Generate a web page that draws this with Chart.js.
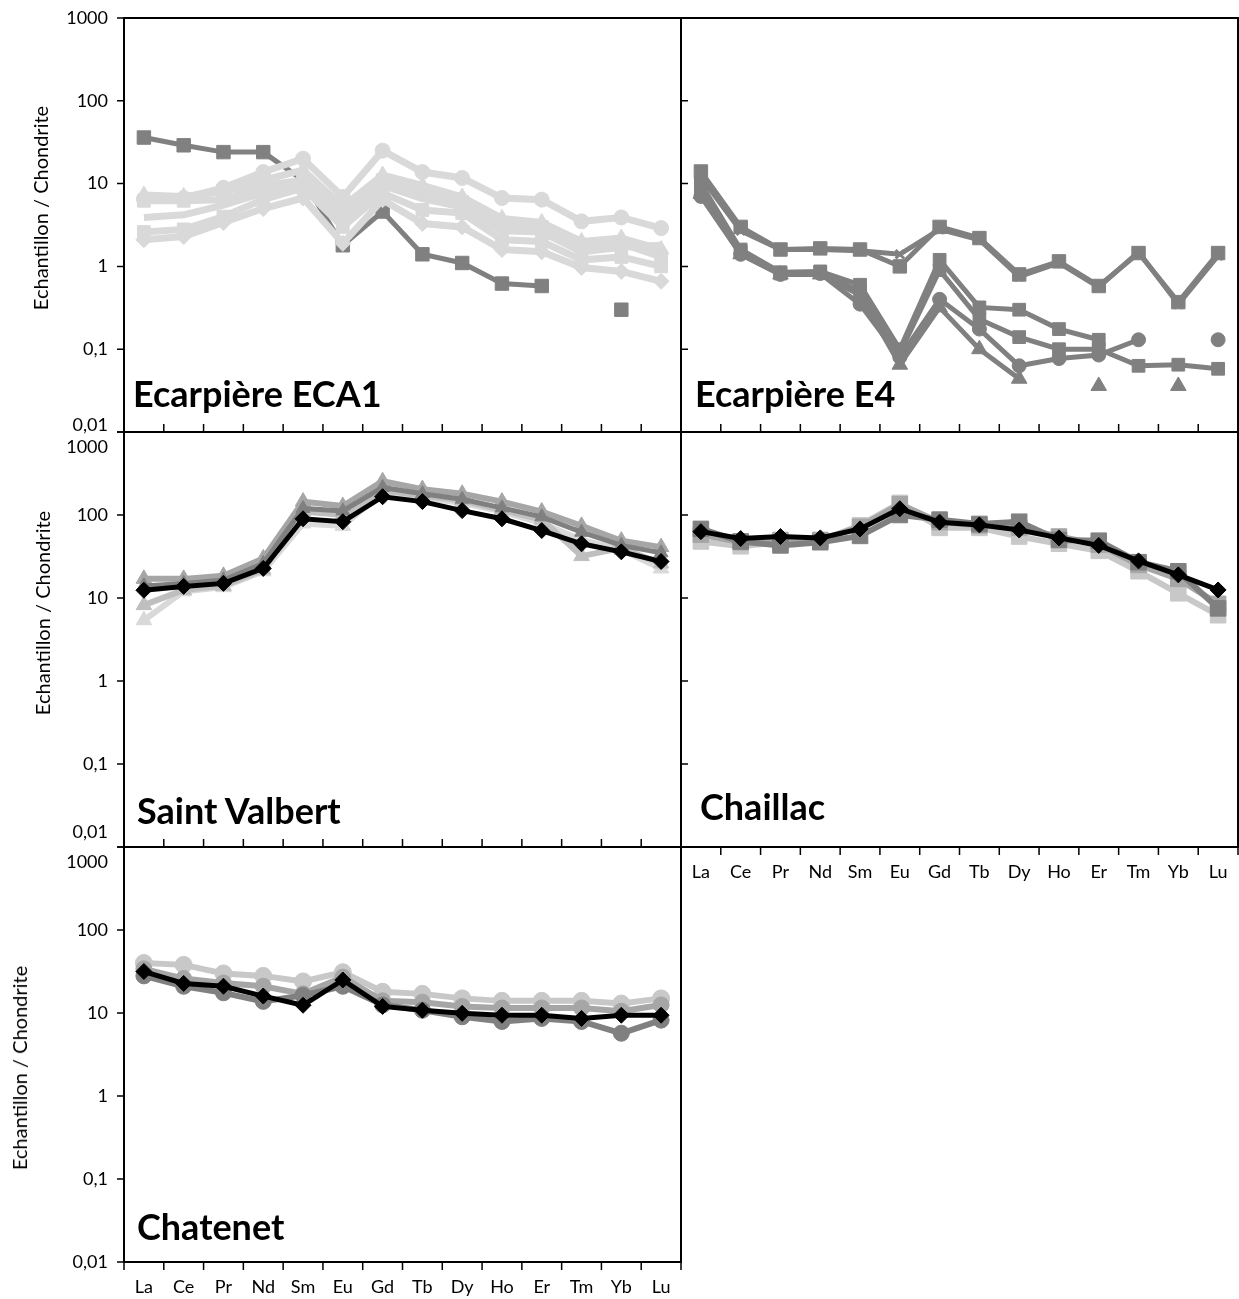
<!DOCTYPE html>
<html lang="fr">
<head>
<meta charset="UTF-8">
<title>Spectres de terres rares normalisés aux chondrites</title>
<script src="https://cdn.jsdelivr.net/npm/chart.js"></script>
<style>
  body { margin: 0; background: #fff; }
  #page { position: relative; width: 1239px; height: 1299px; overflow: hidden; }
  #page canvas { position: absolute; left: -40px; top: -40px; }
  .titre { position: absolute; font: bold 36px Lato, sans-serif; color: #000; line-height: 1; white-space: nowrap; }
  .axe { position: absolute; font: 20px Lato, sans-serif; color: #000; white-space: nowrap;
         transform: translate(-50%, -50%) rotate(-90deg); }
</style>
</head>
<body>
<div id="page">
  <canvas id="eca1" width="1319" height="1379"></canvas>
  <canvas id="e4" width="1319" height="1379"></canvas>
  <canvas id="valbert" width="1319" height="1379"></canvas>
  <canvas id="chaillac" width="1319" height="1379"></canvas>
  <canvas id="chatenet" width="1319" height="1379"></canvas>

  <div class="titre" style="left:133px; top:375px">Ecarpière ECA1</div>
  <div class="titre" style="left:695px; top:375px">Ecarpière E4</div>
  <div class="titre" style="left:137px; top:792px">Saint Valbert</div>
  <div class="titre" style="left:700px; top:788px">Chaillac</div>
  <div class="titre" style="left:137px; top:1208px">Chatenet</div>

  <div class="axe" style="left:40px; top:208px">Echantillon / Chondrite</div>
  <div class="axe" style="left:42px; top:613px">Echantillon / Chondrite</div>
  <div class="axe" style="left:19px; top:1068px">Echantillon / Chondrite</div>
</div>

<script>
    const elements = ['La', 'Ce', 'Pr', 'Nd', 'Sm', 'Eu', 'Gd', 'Tb', 'Dy', 'Ho', 'Er', 'Tm', 'Yb', 'Lu'];
    const yTicks = [1000, 100, 10, 1, 0.1, 0.01];
    const yTickLabels = ['1000', '100', '10', '1', '0,1', '0,01'];

    // Ecarpière ECA1
    const eca1Ronds     = [6.5, 6.7, 8.9, 13.8, 20, 6.9, 25, 13.8, 11.7, 6.7, 6.4, 3.5, 3.9, 2.9];
    const eca1Triangles = [7.3, 7.0, 8.0, 11, 14.6, 5.3, 12.7, 9.5, 6.9, 3.8, 3.4, 2.0, 2.2, 1.6];
    const eca1Carres    = [6.2, 6.2, 6.4, 9.5, 11, 4.5, 11, 8.0, 6.0, 3.2, 3.0, 1.7, 1.9, 1.3];
    const eca1Trait     = [3.9, 4.2, 5.5, 7.7, 10, 3.8, 9.5, 6.6, 5.2, 2.7, 2.6, 1.5, 1.7, 1.8];
    const eca1CarresBas = [2.6, 2.8, 4.0, 6.4, 8.9, 3.0, 7.7, 4.8, 4.4, 2.1, 2.0, 1.2, 1.3, 1.0];
    const eca1Losanges  = [2.1, 2.3, 3.4, 5.0, 6.7, 1.9, 6.4, 3.3, 3.0, 1.6, 1.5, 0.97, 0.87, 0.66];
    const eca1Fonce     = [36, 29, 24, 24, 11, 1.8, 4.6, 1.4, 1.1, 0.62, 0.58, null, 0.3, null];

    // Ecarpière E4
    const e4A = [14, 3.0, 1.6, 1.65, 1.6, 1.0, 3.0, 2.2, 0.8, 1.15, 0.58, 1.45, 0.37, 1.45];
    const e4B = [12, 2.7, 1.6, 1.6, 1.55, 1.4, 2.8, 2.1, 0.75, 1.1, 0.56, 1.5, 0.35, 1.35];
    const e4C = [10, 1.6, 0.85, 0.87, 0.6, 0.1, 1.2, 0.32, 0.30, 0.175, 0.13, null, null, null];
    const e4D = [8.5, 1.5, 0.82, 0.85, 0.5, 0.09, 0.9, 0.23, 0.14, 0.1, 0.1, 0.063, 0.065, 0.058];
    const e4E = [7, 1.4, 0.8, 0.82, 0.35, 0.08, 0.4, 0.175, 0.063, 0.077, 0.085, 0.13, null, 0.13];
    const e4F = [7.5, 1.4, 0.8, 0.8, 0.45, 0.065, 0.32, 0.1, 0.044, null, 0.036, null, 0.036, null];

    // Saint Valbert
    const svNoir   = [12.4, 13.8, 15, 22.7, 90, 83, 166, 145, 113, 90, 65, 45, 36, 27.5];
    const svFonce  = [14, 15, 16.5, 26, 120, 112, 215, 180, 155, 122, 95, 62, 43, 35];
    const svMoyen  = [17, 17, 18.5, 30, 145, 128, 255, 205, 180, 145, 110, 74, 49, 41];
    const svClair  = [8.2, 12.5, 14, 22, 110, 100, 200, 170, 150, 115, 88, 32, 40, 26];
    const svPale   = [5.4, 12, 13.5, 21, 79, 74, 190, 160, 140, 110, 80, 50, 38, 22.7];

    // Chaillac
    const chNoir   = [63, 52, 55, 53, 68, 119, 82, 76, 66, 53, 43, 28, 19, 12.5];
    const chFonce  = [68, 48, 43, 47, 56, 100, 88, 78, 83, 50, 49, 27, 21, 7.5];
    const chMoyen  = [58, 47, 50, 50, 72, 135, 82, 75, 70, 55, 44, 25, 17, 8.5];
    const chClair  = [48, 42, 47, 49, 75, 140, 70, 70, 55, 45, 37, 21, 11.4, 6.2];

    // Chatenet
    const ctNoir   = [31.6, 22.7, 21, 16, 12.4, 25, 12, 10.8, 9.9, 9.4, 9.4, 8.6, 9.4, 9.4];
    const ctFonce  = [28, 21, 17.5, 13.8, 16.3, 21, 12.5, 10.8, 9, 7.9, 8.6, 7.9, 5.7, 8.2];
    const ctMoyen  = [34, 26, 23, 21, 17, 27, 14, 13.5, 12, 11.5, 11.5, 11.5, 10.5, 12.5];
    const ctClair  = [40, 38, 30, 28, 24, 31, 18, 17, 15, 14, 14, 14, 13, 15];

    Chart.defaults.font.family = 'Lato, sans-serif';
    Chart.defaults.color = '#000';

    const MARGE = 40;   // marge du canvas autour de la page (evite le padding automatique)
    const TAILLE = 18;  // police des graduations

    function serie(valeurs, couleur, forme, largeur = 5, rayon = 6) {
        return {
            data: valeurs,
            borderColor: couleur,
            backgroundColor: couleur,
            borderWidth: largeur,
            pointStyle: forme || false,
            pointRadius: forme ? rayon : 0,
            pointBackgroundColor: couleur,
            pointBorderColor: couleur,
            pointBorderWidth: forme === 'crossRot' ? 3 : 1,
            tension: 0
        };
    }

    // cadre noir + petites graduations, placees avec les echelles du graphique
    const cadre = {
        id: 'cadre',
        afterDatasetsDraw(chart, args, opts) {
            const { ctx, chartArea: a, scales } = chart;
            ctx.save();
            ctx.strokeStyle = '#000';
            ctx.lineWidth = 2;
            ctx.strokeRect(a.left, a.top, a.right - a.left, a.bottom - a.top);
            ctx.lineWidth = 1.5;
            ctx.beginPath();
            const dy = opts.yInside ? 7 : -7;
            yTicks.forEach(v => {
                const y = scales.y.getPixelForValue(v);
                ctx.moveTo(a.left, y);
                ctx.lineTo(a.left + dy, y);
            });
            const pas = scales.x.getPixelForValue(1) - scales.x.getPixelForValue(0);
            const dx = opts.xInside ? -8 : 8;
            for (let i = 0; i <= elements.length; i++) {
                const x = scales.x.getPixelForValue(0) + (i - 0.5) * pas;
                ctx.moveTo(x, a.bottom);
                ctx.lineTo(x, a.bottom + dx);
            }
            ctx.stroke();
            ctx.restore();
        }
    };

    function panneau(id, zone, gauche, etiquettesX, decal, datasets) {
        const [x0, y0, x1, y1] = zone;
        const hautX = etiquettesX ? 37 : 0;
        const largY = gauche ? 124 : 0;
        // decalage vertical des etiquettes extremes (1000 et 0,01), comme sur l'original
        const decalage = v => v === yTicks[0] ? decal[0] : v === yTicks[5] ? decal[1] : 0;
        new Chart(document.getElementById(id), {
            type: 'line',
            data: { labels: elements, datasets: datasets },
            options: {
                responsive: false,
                animation: false,
                events: [],
                layout: {
                    autoPadding: false,
                    padding: {
                        left: MARGE + x0 - largY,
                        top: MARGE + y0,
                        right: MARGE + 1239 - x1,
                        bottom: MARGE + 1299 - y1 - hautX
                    }
                },
                scales: {
                    x: {
                        type: 'category', labels: elements, offset: true, display: etiquettesX,
                        grid: { display: false, drawTicks: false }, border: { display: false },
                        ticks: { autoSkip: false, maxRotation: 0, padding: 14, font: { size: TAILLE } },
                        afterFit: s => { s.height = hautX; }
                    },
                    y: {
                        type: 'logarithmic', position: 'left', min: 0.01, max: 1000, display: gauche,
                        grid: { display: false, drawTicks: false }, border: { display: false },
                        afterBuildTicks: s => { s.ticks = yTicks.map(v => ({ value: v })); },
                        afterFit: s => { s.width = largY; },
                        ticks: {
                            autoSkip: false, padding: 16,
                            font: c => {
                                const d = decalage(c.tick ? c.tick.value : 1);
                                return { size: TAILLE, lineHeight: d ? (2 * Math.abs(d)) + 'px' : 1.2 };
                            },
                            callback: v => {
                                const t = yTickLabels[yTicks.indexOf(v)];
                                const d = decalage(v);
                                if (!d) return t;
                                return d > 0 ? ['', t] : [t, ''];
                            }
                        }
                    }
                },
                plugins: {
                    legend: { display: false },
                    tooltip: { enabled: false },
                    cadre: { yInside: !gauche, xInside: !etiquettesX }
                }
            },
            plugins: [cadre]
        });
    }

    const CLAIR = '#d9d9d9', FONCE = '#808080', NOIR = '#000000';

    panneau('eca1', [124, 18, 681, 432], true, false, [0, -7], [
        serie(eca1Ronds, CLAIR, 'circle', 7, 7.5),
        serie(eca1Triangles, CLAIR, 'triangle', 7, 9),
        serie(eca1Carres, CLAIR, 'rect', 7, 9),
        serie(eca1Trait, CLAIR, null, 7),
        serie(eca1CarresBas, CLAIR, 'rect', 7, 9),
        serie(eca1Losanges, CLAIR, 'rectRot', 7, 8),
        serie(eca1Fonce, FONCE, 'rect', 5, 9.5)
    ]);

    panneau('e4', [681, 18, 1238, 432], false, false, [0, 0], [
        serie(e4A, FONCE, 'rect', 5, 9.5),
        serie(e4B, FONCE, 'crossRot', 5, 6),
        serie(e4C, FONCE, 'rect', 5, 9),
        serie(e4D, FONCE, 'rect', 5, 9),
        serie(e4E, FONCE, 'circle', 5, 7),
        serie(e4F, FONCE, 'triangle', 5, 9)
    ]);

    panneau('valbert', [124, 432, 681, 847], true, false, [15, -15], [
        serie(svNoir, NOIR, 'rectRot', 5, 8),
        serie(svFonce, FONCE, 'triangle', 5, 8),
        serie(svMoyen, '#a6a6a6', 'triangle', 6, 9),
        serie(svClair, '#bfbfbf', 'triangle', 6, 9),
        serie(svPale, CLAIR, 'triangle', 6, 9)
    ]);

    panneau('chaillac', [681, 432, 1238, 847], false, true, [0, 0], [
        serie(chNoir, NOIR, 'rectRot', 5, 8),
        serie(chFonce, FONCE, 'rect', 6, 11),
        serie(chMoyen, '#a6a6a6', 'rect', 6, 11),
        serie(chClair, '#c8c8c8', 'rect', 6, 11)
    ]);

    panneau('chatenet', [124, 847, 681, 1262], true, true, [15, 0], [
        serie(ctNoir, NOIR, 'rectRot', 5, 8),
        serie(ctFonce, FONCE, 'circle', 6, 8),
        serie(ctMoyen, '#a6a6a6', 'circle', 6, 8),
        serie(ctClair, '#c8c8c8', 'circle', 6, 8.5)
    ]);
</script>
</body>
</html>
